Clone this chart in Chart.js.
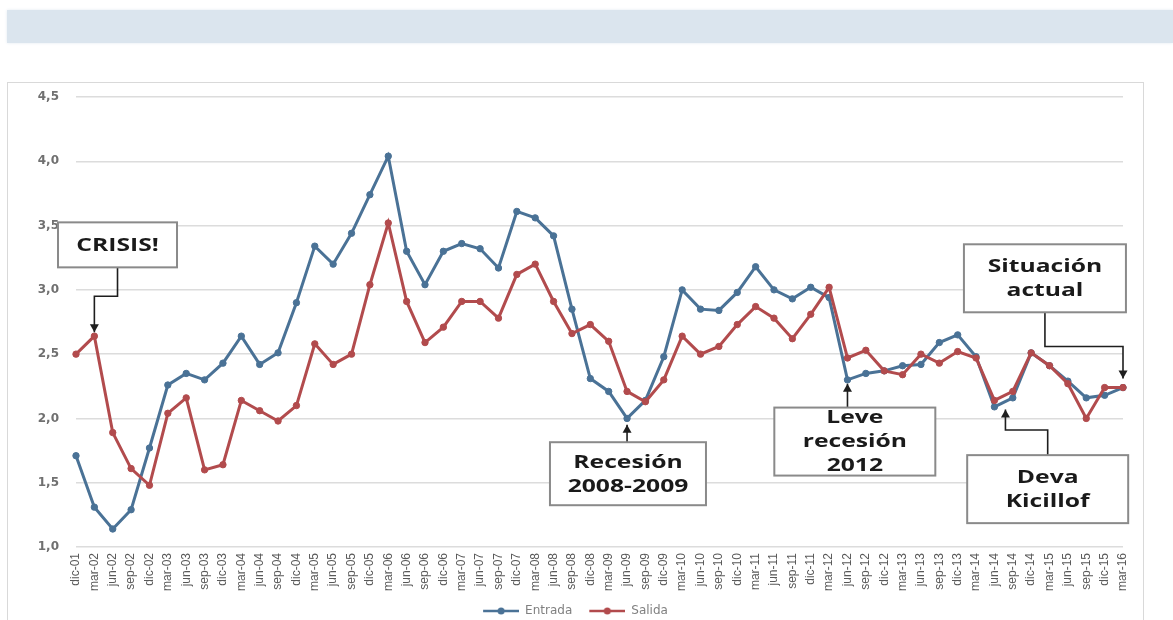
<!DOCTYPE html>
<html><head><meta charset="utf-8">
<script src="https://cdn.jsdelivr.net/npm/chart.js@4.4.0/dist/chart.umd.min.js"></script>
<style>
html,body{margin:0;padding:0;background:#fff;width:1173px;height:620px;overflow:hidden;}
#banner{position:absolute;left:7px;top:10px;width:1166px;height:33px;background:#dbe5ee;box-shadow:0 0 3px #e3ebf2;}
#frame{position:absolute;left:7px;top:82px;width:1135px;height:560px;border:1px solid #d9d9d9;background:#fff;}
#wrap{position:absolute;left:0;top:0;width:1173px;height:620px;}
</style></head>
<body>
<div id="banner"></div><div id="frame"></div>
<div id="wrap"><canvas id="c" width="1173" height="620"></canvas></div>
<script>
const categories = ['dic-01','mar-02','jun-02','sep-02','dic-02','mar-03','jun-03','sep-03','dic-03','mar-04','jun-04','sep-04','dic-04','mar-05','jun-05','sep-05','dic-05','mar-06','jun-06','sep-06','dic-06','mar-07','jun-07','sep-07','dic-07','mar-08','jun-08','sep-08','dic-08','mar-09','jun-09','sep-09','dic-09','mar-10','jun-10','sep-10','dic-10','mar-11','jun-11','sep-11','dic-11','mar-12','jun-12','sep-12','dic-12','mar-13','jun-13','sep-13','dic-13','mar-14','jun-14','sep-14','dic-14','mar-15','jun-15','sep-15','dic-15','mar-16'];
const entrada = [1.71,1.31,1.14,1.29,1.77,2.26,2.35,2.30,2.43,2.64,2.42,2.51,2.90,3.34,3.20,3.44,3.74,4.04,3.30,3.04,3.30,3.36,3.32,3.17,3.61,3.56,3.42,2.85,2.31,2.21,2.00,2.14,2.48,3.00,2.85,2.84,2.98,3.18,3.00,2.93,3.02,2.94,2.30,2.35,2.37,2.41,2.42,2.59,2.65,2.48,2.09,2.16,2.51,2.41,2.29,2.16,2.18,2.24];
const salida = [2.50,2.64,1.89,1.61,1.48,2.04,2.16,1.60,1.64,2.14,2.06,1.98,2.10,2.58,2.42,2.50,3.04,3.52,2.91,2.59,2.71,2.91,2.91,2.78,3.12,3.20,2.91,2.66,2.73,2.60,2.21,2.13,2.30,2.64,2.50,2.56,2.73,2.87,2.78,2.62,2.81,3.02,2.47,2.53,2.37,2.34,2.50,2.43,2.52,2.47,2.14,2.21,2.51,2.41,2.27,2.00,2.24,2.24];
const seriesNames = ['Entrada','Salida'];
const yMin = 1.0, yMax = 4.5, yStep = 0.5;

// Annotation callouts, positioned in data space (category index, value)
const notes = [
  {lines:['CRISIS!'], at:[2.26,3.35], w:119, h:45, side:'bottom', path:[[2.26,2.95],[1,2.95],[1,2.67]]},
  {lines:['Recesión','2008-2009'], at:[30.05,1.57], w:156, h:63, side:'top', path:[[30,1.95]]},
  {lines:['Leve','recesión','2012'], at:[42.4,1.82], w:161, h:68, side:'top', path:[[42,2.27]]},
  {lines:['Deva','Kicillof'], at:[52.9,1.45], w:161, h:68, side:'top', path:[[52.9,1.91],[50.6,1.91],[50.6,2.07]]},
  {lines:['Situación','actual'], at:[52.75,3.09], w:162, h:68, side:'bottom', path:[[52.75,2.56],[57,2.56],[57,2.31]]}
];

const BLUE = '#4a7296', RED = '#b24b4d';

function legendIcon(color){
  const c = document.createElement('canvas');
  c.width = 44; c.height = 10;
  const g = c.getContext('2d');
  g.strokeStyle = color; g.lineWidth = 2.5;
  g.beginPath(); g.moveTo(8,5); g.lineTo(44,5); g.stroke();
  g.fillStyle = color; g.beginPath(); g.arc(26,5,3.5,0,Math.PI*2); g.fill();
  return c;
}

const notesPlugin = {
  id:'notes',
  afterDatasetsDraw(chart){
    const ctx = chart.ctx, xs = chart.scales.x, ys = chart.scales.y;
    const P = (p)=>[xs.getPixelForValue(p[0]), ys.getPixelForValue(p[1])];
    notes.forEach(n=>{
      const [cx,cy] = P(n.at);
      const bx = cx - n.w/2, by = cy - n.h/2;
      ctx.save();
      const pts = n.path.map(P);
      const startY = n.side === 'bottom' ? by + n.h : by;
      ctx.strokeStyle = '#1e1e1e'; ctx.lineWidth = 1.6;
      ctx.beginPath(); ctx.moveTo(pts[0][0], startY);
      pts.forEach(p=>ctx.lineTo(p[0], p[1]));
      ctx.stroke();
      const tip = pts[pts.length-1];
      const prev = pts.length>1 ? pts[pts.length-2] : [pts[0][0], startY];
      const dir = tip[1] > prev[1] ? 1 : -1;
      ctx.fillStyle = '#1e1e1e';
      ctx.beginPath();
      ctx.moveTo(tip[0], tip[1]);
      ctx.lineTo(tip[0]-4.5, tip[1]-dir*8);
      ctx.lineTo(tip[0]+4.5, tip[1]-dir*8);
      ctx.closePath(); ctx.fill();
      ctx.fillStyle = '#ffffff';
      ctx.fillRect(bx, by, n.w, n.h);
      ctx.strokeStyle = '#8a8a8a'; ctx.lineWidth = 2;
      ctx.strokeRect(bx, by, n.w, n.h);
      ctx.fillStyle = '#1a1a1a';
      ctx.font = 'bold 17px "Open Sans", "DejaVu Sans", sans-serif';
      ctx.textAlign = 'center'; ctx.textBaseline = 'middle';
      const lh = 24;
      const y0 = cy - (n.lines.length-1)*lh/2 + 1;
      n.lines.forEach((t,i)=>{
        ctx.save();
        ctx.translate(cx, y0 + i*lh);
        ctx.scale(1.45, 1);
        ctx.fillText(t, 0, 0);
        ctx.restore();
      });
      ctx.restore();
    });
  }
};

new Chart(document.getElementById('c'), {
  type:'line',
  data:{
    labels: categories,
    datasets:[
      {label:seriesNames[0], data:entrada, borderColor:BLUE, backgroundColor:BLUE, pointBackgroundColor:BLUE, pointBorderColor:BLUE,
       borderWidth:3, pointRadius:3.2, pointBorderWidth:1, tension:0, order:1, pointStyle:'circle'},
      {label:seriesNames[1], data:salida, borderColor:RED, backgroundColor:RED, pointBackgroundColor:RED, pointBorderColor:RED,
       borderWidth:3, pointRadius:3.2, pointBorderWidth:1, tension:0, order:0, pointStyle:'circle'}
    ]
  },
  options:{
    responsive:false, animation:false, devicePixelRatio:1,
    layout:{padding:{left:20, right:50, top:97, bottom:-7}},
    plugins:{
      tooltip:{enabled:false},
      legend:{
        position:'bottom',
        labels:{
          usePointStyle:true, pointStyleWidth:44, padding:9,
          font:{family:'"DejaVu Sans", sans-serif', size:12}, color:'#808080',
          generateLabels(chart){
            return chart.data.datasets.map((d,i)=>({
              text:d.label, pointStyle:legendIcon(d.borderColor), fillStyle:d.borderColor,
              strokeStyle:d.borderColor, lineWidth:0, hidden:false, datasetIndex:i, fontColor:'#808080'
            }));
          }
        }
      }
    },
    scales:{
      x:{
        type:'category', offset:false,
        grid:{display:false, drawTicks:false, tickLength:0}, border:{display:false},
        ticks:{autoSkip:false, maxRotation:90, minRotation:90, padding:6,
          font:{family:'"Liberation Sans", Arial, sans-serif', size:12}, color:'#595959'},
        afterFit(s){ s.height = 49; }
      },
      y:{
        min:yMin, max:yMax,
        grid:{color:'#dcdcdc', lineWidth:1.5, drawTicks:false}, border:{display:false},
        ticks:{stepSize:yStep, padding:17, color:'#707070',
          font:{family:'"DejaVu Sans", sans-serif', size:12, weight:'bold'},
          callback:(v)=>v.toFixed(1).replace('.', ',')},
        afterFit(s){ s.width = 56; }
      }
    }
  },
  plugins:[notesPlugin]
});
</script>
</body></html>
